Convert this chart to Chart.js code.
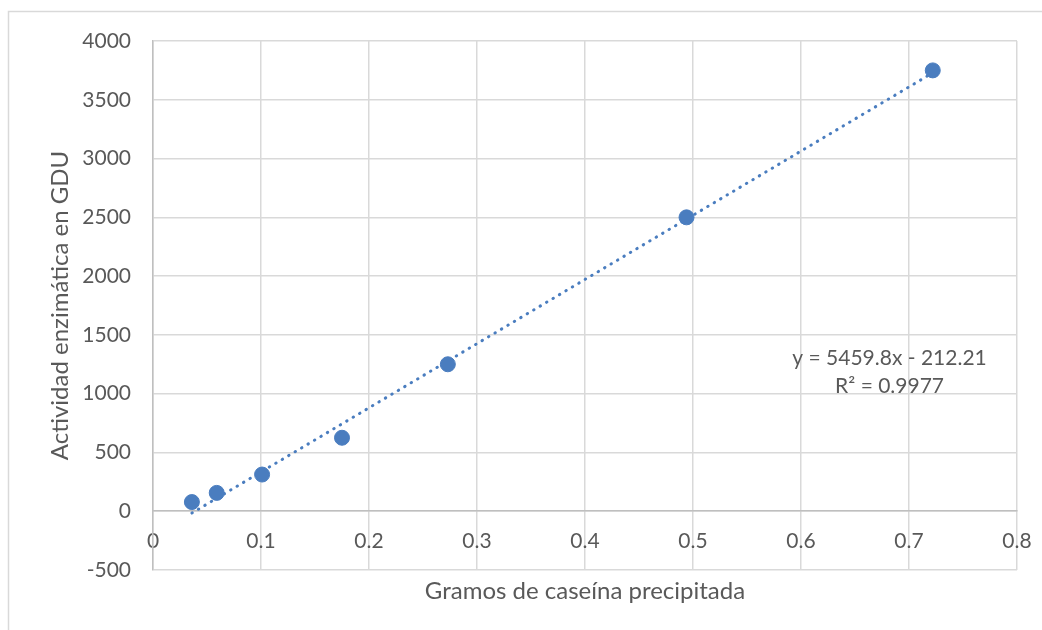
<!DOCTYPE html>
<html>
<head>
<meta charset="utf-8">
<script src="https://cdn.jsdelivr.net/npm/chart.js@4/dist/chart.umd.min.js"></script>
<style>
  html, body { margin: 0; padding: 0; background: #fff; }
  #wrap { width: 1042px; height: 630px; }
</style>
</head>
<body>
<div id="wrap"><canvas id="grafico" width="1042" height="630"></canvas></div>
<script>
// datos
const gramos = [0.036, 0.059, 0.101, 0.175, 0.273, 0.494, 0.722];
const actividad = [78, 156, 312, 625, 1250, 2500, 3750];

// linea de tendencia (ecuacion mostrada en el grafico)
const pendiente = 5459.8;
const ordenada = -212.21;
const ecuacion = "y = 5459.8x - 212.21";
const r2 = "R² = 0.9977";

const xTicks = [0, 0.1, 0.2, 0.3, 0.4, 0.5, 0.6, 0.7, 0.8];
const yTicks = [-500, 0, 500, 1000, 1500, 2000, 2500, 3000, 3500, 4000];

const xMin = Math.min(...gramos), xMax = Math.max(...gramos);
const tendencia = [
  { x: xMin, y: pendiente * xMin + ordenada },
  { x: xMax, y: pendiente * xMax + ordenada }
];

const azul = "#4a7dbf";
const gris = "#595959";
const fuente = "Lato, 'Open Sans', sans-serif";

// marco del area del grafico y etiqueta de la tendencia
const extras = {
  id: "extras",
  beforeDraw(chart) {
    const c = chart.ctx;
    c.save();
    c.strokeStyle = "#d9d9d9";
    c.lineWidth = 1.5;
    c.beginPath();
    c.moveTo(8.5, 630);
    c.lineTo(8.5, 11.5);
    c.lineTo(1042, 11.5);
    c.stroke();
    c.restore();
  },
  afterDatasetsDraw(chart) {
    const c = chart.ctx;
    const sx = chart.scales.x, sy = chart.scales.y;
    c.save();
    c.fillStyle = gris;
    c.font = "21px " + fuente;
    c.textAlign = "center";
    c.textBaseline = "middle";
    const px = sx.getPixelForValue(0.682);
    c.fillText(ecuacion, px, sy.getPixelForValue(1300));
    c.fillText(r2, px, sy.getPixelForValue(1060));
    c.restore();
  }
};

new Chart(document.getElementById("grafico"), {
  type: "scatter",
  data: {
    datasets: [{
        data: gramos.map((g, i) => ({ x: g, y: actividad[i] })),
        backgroundColor: azul,
        borderColor: azul,
        pointRadius: 7.5,
        pointHoverRadius: 7.5,
        order: 1
      },
      {
        data: tendencia,
        type: "line",
        showLine: true,
        borderColor: azul,
        borderWidth: 3,
        borderDash: [0.5, 7],
        borderCapStyle: "round",
        pointRadius: 0,
        fill: false,
        order: 2
      }
    ]
  },
  options: {
    responsive: false,
    animation: false,
    layout: { padding: { left: 0, top: 41, right: 25, bottom: 60 } },
    plugins: {
      legend: { display: false },
      tooltip: { enabled: false }
    },
    scales: {
      x: {
        type: "linear",
        position: { y: 0 },
        min: 0,
        max: 0.8,
        afterBuildTicks: s => { s.ticks = xTicks.map(v => ({ value: v })); },
        afterFit: s => { s.paddingRight = 0; s.paddingLeft = 0; },
        ticks: {
          color: gris,
          font: { family: fuente, size: 21 },
          padding: 17,
          maxRotation: 0,
          callback: v => String(Number(v.toFixed(1)))
        },
        grid: { color: "#d9d9d9", lineWidth: 1.5, drawTicks: false },
        border: { color: "#bfbfbf", width: 1.5 },
        title: { display: false }
      },
      y: {
        min: -500,
        max: 4000,
        afterBuildTicks: s => { s.ticks = yTicks.map(v => ({ value: v })); },
        afterFit: s => { s.width = 153; s.paddingTop = 0; s.paddingBottom = 0; },
        ticks: {
          color: gris,
          font: { family: fuente, size: 21 },
          padding: 22,
          callback: v => String(v)
        },
        grid: { color: "#d9d9d9", lineWidth: 1.5, drawTicks: false },
        border: { color: "#bfbfbf", width: 1.5 },
        title: {
          display: true,
          text: "Actividad enzimática en GDU",
          color: gris,
          font: { family: fuente, size: 24 },
          padding: { top: 46, bottom: 0 }
        }
      }
    }
  },
  plugins: [extras, {
    id: "tituloX",
    afterDraw(chart) {
      const c = chart.ctx;
      const a = chart.chartArea;
      c.save();
      c.fillStyle = gris;
      c.font = "24px " + fuente;
      c.textAlign = "center";
      c.textBaseline = "middle";
      c.fillText("Gramos de caseína precipitada", (a.left + a.right) / 2, a.bottom + 21);
      c.restore();
    }
  }]
});
</script>
</body>
</html>
